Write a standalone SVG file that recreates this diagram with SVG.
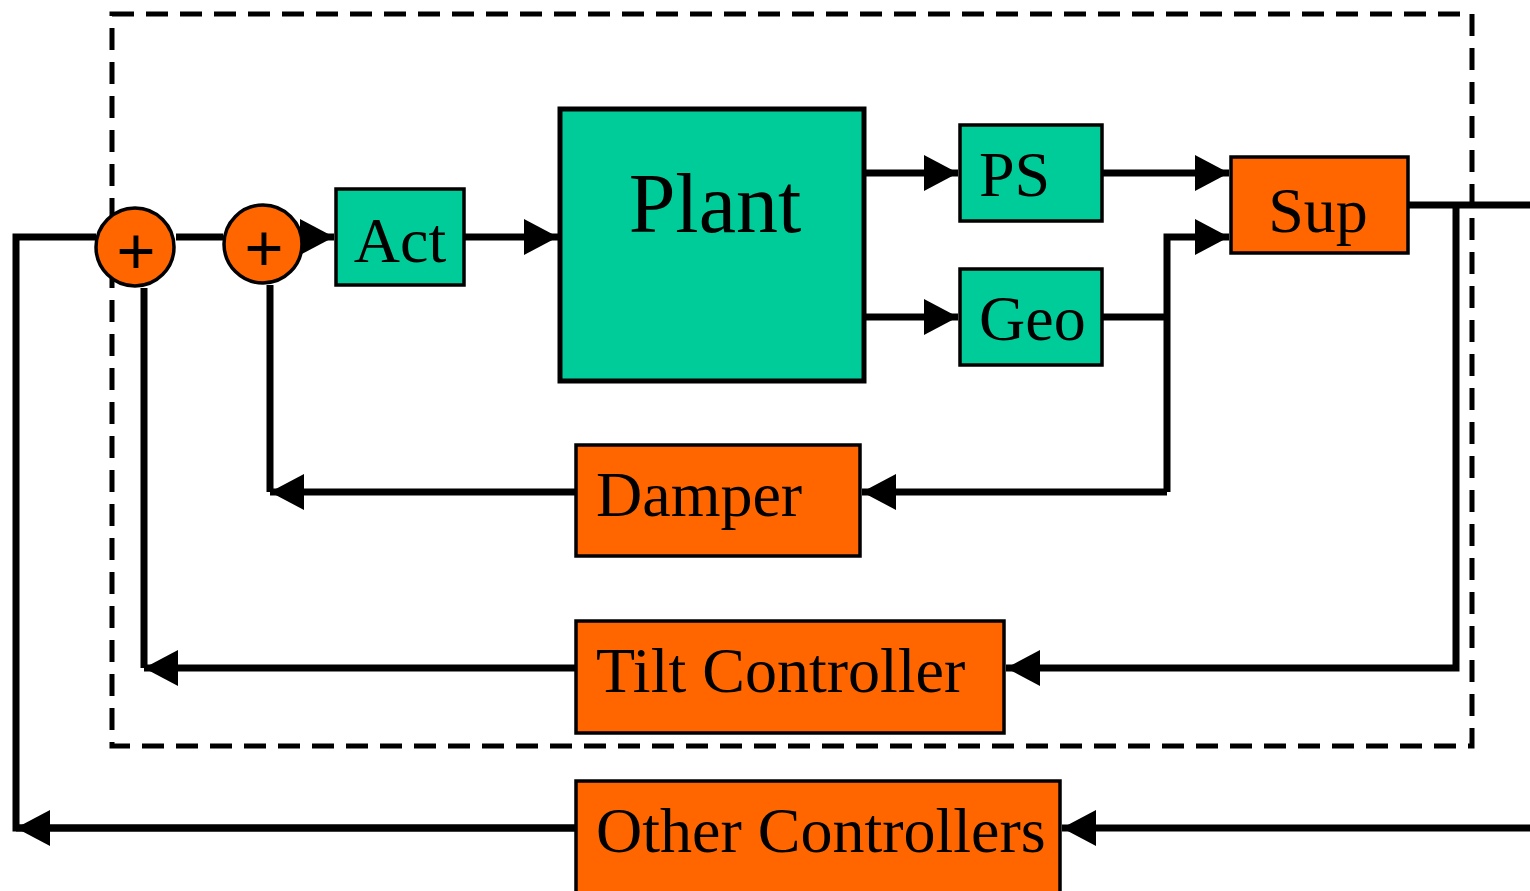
<svg xmlns="http://www.w3.org/2000/svg" width="1530" height="891" viewBox="0 0 1530 891">
<style>
.t{font-family:"Liberation Serif","Times New Roman",serif;font-size:64px;fill:#000}
.p{font-family:"Liberation Serif","Times New Roman",serif;font-size:70px;font-weight:bold;fill:#000}
.g{fill:#00CC99;stroke:#000;stroke-width:3.5}
.o{fill:#FF6600;stroke:#000;stroke-width:3.5}
.w{fill:none;stroke:#000;stroke-width:7}
</style>
<defs>
<marker id="ah" markerUnits="userSpaceOnUse" markerWidth="36" markerHeight="36" refX="34" refY="18" orient="auto" viewBox="0 0 36 36">
<path d="M0,0 L34,18 L0,36 Z" fill="#000"/>
</marker>
</defs>
<rect x="112" y="14" width="1360" height="732" fill="none" stroke="#000" stroke-width="5" stroke-dasharray="22,12"/>
<g id="connectors">
<path class="w" d="M1530,828 H1062" marker-end="url(#ah)"/>
<path class="w" d="M576,828 H16 V237 H96"/>
<path class="w" d="M176,237 H223"/>
<path class="w" d="M303,237 H334" marker-end="url(#ah)"/>
<path class="w" d="M464,237 H558" marker-end="url(#ah)"/>
<path class="w" d="M864,173 H958" marker-end="url(#ah)"/>
<path class="w" d="M864,317 H958" marker-end="url(#ah)"/>
<path class="w" d="M1102,173 H1229" marker-end="url(#ah)"/>
<path class="w" d="M1102,317 H1167"/>
<path class="w" d="M1167,492 V237 H1229" marker-end="url(#ah)"/>
<path class="w" d="M1167,492 H862" marker-end="url(#ah)"/>
<path class="w" d="M1408,205 H1530"/>
<path class="w" d="M1456,205 V668 H1006" marker-end="url(#ah)"/>
<path class="w" d="M576,492 H270" marker-end="url(#ah)"/>
<path class="w" d="M270,285 V492"/>
<path class="w" d="M576,668 H144" marker-end="url(#ah)"/>
<path class="w" d="M144,288 V668"/>
<path class="w" d="M576,828 H16" marker-end="url(#ah)"/>
</g>
<g id="sum1"><circle cx="135" cy="247" r="39" class="o"/><text x="136" y="275" class="p" text-anchor="middle">+</text></g>
<g id="sum2"><circle cx="263" cy="244" r="39" class="o"/><text x="264" y="272" class="p" text-anchor="middle">+</text></g>
<g id="act"><rect x="336" y="189" width="128" height="96" class="g"/><text x="400" y="262" class="t" text-anchor="middle">Act</text></g>
<g id="plant"><rect x="560" y="109" width="304" height="272" class="g" style="stroke-width:5"/><text x="715" y="232" class="t" text-anchor="middle" style="font-size:84px">Plant</text></g>
<g id="ps"><rect x="960" y="125" width="142" height="96" class="g"/><text x="979" y="196" class="t">PS</text></g>
<g id="geo"><rect x="960" y="269" width="142" height="96" class="g"/><text x="979" y="340" class="t">Geo</text></g>
<g id="sup"><rect x="1231" y="157" width="177" height="96" class="o"/><text x="1318" y="232" class="t" text-anchor="middle">Sup</text></g>
<g id="damper"><rect x="576" y="445" width="284" height="111" class="o"/><text x="596" y="516" class="t">Damper</text></g>
<g id="tilt"><rect x="576" y="621" width="428" height="112" class="o"/><text x="596" y="692" class="t">Tilt Controller</text></g>
<g id="other"><rect x="576" y="781" width="484" height="120" class="o"/><text x="596" y="852" class="t">Other Controllers</text></g>
</svg>
